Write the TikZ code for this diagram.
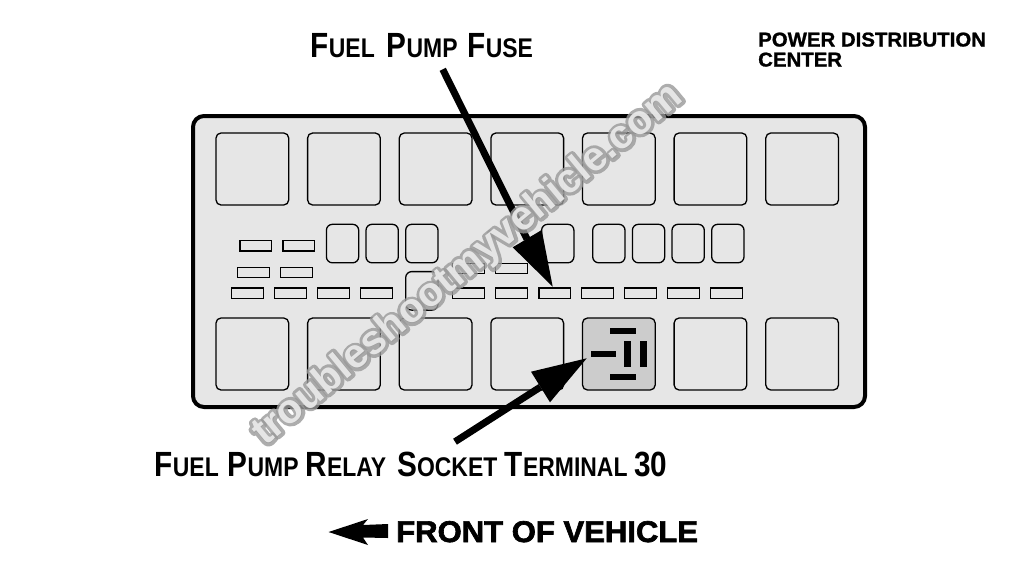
\documentclass[tikz,border=0pt]{standalone}
\usepackage{fontspec}
\setmainfont{Liberation Sans}
\newfontfamily\labfont[FakeStretch=0.85]{Liberation Sans Bold}
\newfontfamily\heavyfont[FakeBold=2.2,FakeStretch=1.035]{Liberation Sans Bold}
\newfontfamily\powerfont[FakeBold=1.1,FakeStretch=1.02]{Liberation Sans Bold}
\newfontfamily\wmfont{Liberation Sans Bold}
\newcommand{\scw}[2]{{\fontsize{35}{35}\selectfont #1}{\fontsize{27}{27}\selectfont #2}}
\newcommand{\wmtext}{troubleshootmyvehicle.com}
\definecolor{panel}{HTML}{E6E6E6}
\definecolor{socket}{HTML}{CCCCCC}
\tikzset{
  labeltext/.style={anchor=base west,inner sep=0pt,font=\labfont},
  big/.style={draw=black,line width=1.3pt,rounded corners=5pt},
  mid/.style={draw=black,line width=1.3pt,rounded corners=6pt},
  small/.style={draw=black,line width=1.3pt},
  shaft/.style={line width=7pt,draw=black},
  pin/.style={fill=black},
}
\begin{document}
\begin{tikzpicture}[x=1pt,y=-1pt]
\useasboundingbox (0,0) rectangle (1024,576);
\fill[white] (0,0) rectangle (1024,576);
% panel
\draw[fill=panel,line width=4pt,rounded corners=11pt] (193,116) rectangle (865,407);
% large sockets
\foreach \x in {216,307.6,399.3,490.9,582.5,674.1,765.8}{
  \draw[big] (\x,133) rectangle ++(72.7,72);
  \ifdim\x pt=582.5pt
    \draw[big,fill=socket] (\x,318) rectangle ++(72.7,72);
  \else
    \draw[big] (\x,318) rectangle ++(72.7,72);
  \fi
}
% medium sockets
\foreach \x in {326.4,366,405.7,541.6,592.7,632.4,672,711.7}{
  \draw[mid] (\x,224.3) rectangle ++(32.3,38.5);
}
\draw[mid] (405.7,271.6) rectangle ++(32.3,38.5);
% small fuses
\foreach \x in {240,283}{\draw[small] (\x,240.8) rectangle ++(31.7,10.2);}
\foreach \x in {237.8,280.8}{\draw[small] (\x,267.4) rectangle ++(31.7,10.2);}
\foreach \x in {452.8,495.8}{\draw[small] (\x,263.3) rectangle ++(31.7,10.2);}
\foreach \x in {231.8,274.8,317.8,360.8,452.8,495.8,539,581.8,624.8,667.8,710.8}{
  \draw[small] (\x,288) rectangle ++(31.7,10.2);
}
% relay terminals
\fill[pin] (610.3,327.7) rectangle (636,334.3);
\fill[pin] (610.3,373.7) rectangle (636,380.3);
\fill[pin] (590.7,350.7) rectangle (616,357.3);
\fill[pin] (624,341) rectangle (630.7,366.7);
\fill[pin] (640,341) rectangle (646.7,366.7);
% callout arrows
\coordinate (fuseTail) at (442.7,69.3);
\coordinate (fuseBase) at (527,239);
\coordinate (fuseTip) at (552.7,286.7);
\draw[shaft] (fuseTail) -- (fuseBase);
\fill (fuseTip) -- (512.7,247.3) -- (541.7,230) -- cycle;
\coordinate (relayTail) at (455,441.7);
\coordinate (relayBase) at (540.5,387);
\coordinate (relayTip) at (586.7,358.3);
\draw[shaft] (relayTail) -- (relayBase);
\fill (relayTip) -- (531,371.7) -- (550,402.3) -- cycle;
% front arrow
\fill (328.5,532) -- (368,519) -- (363,525) -- (388,524) -- (388,538) -- (363,537.5) -- (368,545) -- cycle;
% labels
\node[labeltext] (fuselabel) at (310.5,57) {\scw{F}{UEL}\hspace{12pt}\scw{P}{UMP}\hspace{10pt}\scw{F}{USE}};
\node[labeltext] (relaylabel) at (154.5,476) {\scw{F}{UEL}\hspace{9pt}\scw{P}{UMP}\hspace{7pt}\scw{R}{ELAY}\hspace{11pt}\scw{S}{OCKET}\hspace{7.5pt}\scw{T}{ERMINAL}\hspace{6.5pt}{\fontsize{35}{35}\selectfont 30}};
\node[anchor=base west,inner sep=0pt,font=\powerfont\fontsize{20}{20}\selectfont] (power1) at (758,46.5) {POWER DISTRIBUTION};
\node[anchor=base west,inner sep=0pt,font=\powerfont\fontsize{20}{20}\selectfont] (power2) at (758,66.5) {CENTER};
\node[anchor=base west,inner sep=0pt,font=\heavyfont\fontsize{30}{30}\selectfont] (front) at (396,542) {FRONT OF VEHICLE};
% watermark
\node[anchor=base west,inner sep=0pt,rotate=39.6,text opacity=0.8,font=\wmfont\fontsize{41}{41}\selectfont] (wm) at (265,447)
  {\rlap{\special{pdf:code 2 Tr 6.5 w 1 j 1 J 0.6 G 0.6 g}\wmtext\special{pdf:code 0 Tr 0 G 0 g}}\special{pdf:code 0 Tr 0.97 g}\wmtext\special{pdf:code 0 g}};
\end{tikzpicture}
\end{document}
